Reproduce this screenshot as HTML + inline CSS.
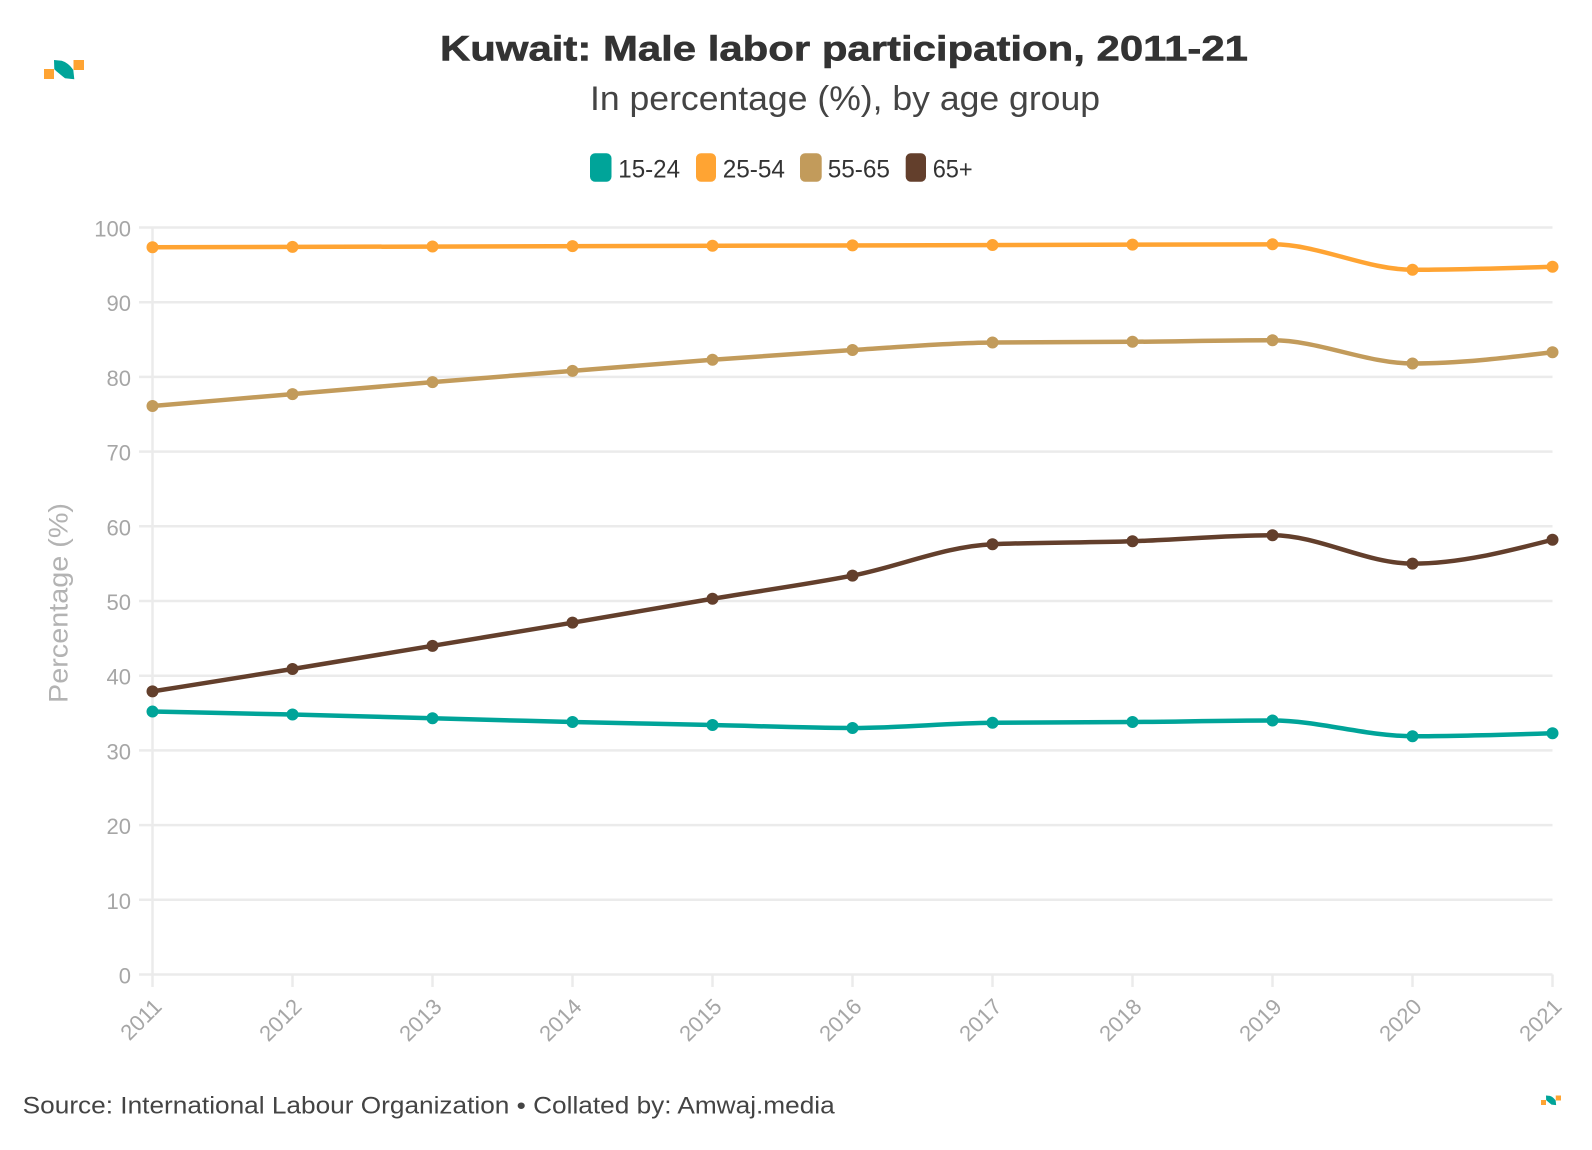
<!DOCTYPE html>
<html>
<head>
<meta charset="utf-8">
<style>
  html,body{margin:0;padding:0;background:#fff;}
  svg{display:block;}
  text{font-family:"Liberation Sans", Arial, sans-serif;}
</style>
</head>
<body>
<svg width="1592" height="1150" viewBox="0 0 1592 1150" xmlns="http://www.w3.org/2000/svg">
  <rect width="1592" height="1150" fill="#fff"/>

  <!-- logo top-left -->
  <g id="logo">
    <rect x="44" y="69" width="10" height="10" fill="#ffa433"/>
    <path d="M54,60 L61.7,60.7 C66,62 70,65 73.3,70 L74.3,79.3 L65,78.3 C61,75 57,72 54.3,69.3 Z" fill="#00a499"/>
    <rect x="73.5" y="60" width="10.5" height="10" fill="#ffa433"/>
  </g>
  <!-- logo bottom-right -->
  <g transform="translate(1519,1065.5) scale(0.5)">
    <rect x="44" y="69" width="10" height="10" fill="#ffa433"/>
    <path d="M54,60 L61.7,60.7 C66,62 70,65 73.3,70 L74.3,79.3 L65,78.3 C61,75 57,72 54.3,69.3 Z" fill="#00a499"/>
    <rect x="73.5" y="60" width="10.5" height="10" fill="#ffa433"/>
  </g>

  <!-- titles -->
  <text x="440" y="60.5" font-size="35" font-weight="bold" fill="#333" stroke="#333" stroke-width="0.6" textLength="808" lengthAdjust="spacingAndGlyphs">Kuwait: Male labor participation, 2011-21</text>
  <text x="590" y="110" font-size="34" fill="#444" textLength="510" lengthAdjust="spacingAndGlyphs">In percentage (%), by age group</text>

  <!-- legend -->
  <rect x="590" y="153.3" width="21.5" height="28.4" rx="5" fill="#00a499"/>
  <text x="618.3" y="177.3" font-size="25" fill="#333" textLength="61.7" lengthAdjust="spacingAndGlyphs">15-24</text>
  <rect x="696" y="153.3" width="20" height="28.4" rx="5" fill="#ffa433"/>
  <text x="722.7" y="177.3" font-size="25" fill="#333" textLength="62.3" lengthAdjust="spacingAndGlyphs">25-54</text>
  <rect x="800" y="153.3" width="21.7" height="28.4" rx="5" fill="#c29b5b"/>
  <text x="827.7" y="177.3" font-size="25" fill="#333" textLength="62.3" lengthAdjust="spacingAndGlyphs">55-65</text>
  <rect x="905.7" y="153.3" width="20.3" height="28.4" rx="5" fill="#633f2c"/>
  <text x="932.7" y="177.3" font-size="25" fill="#333" textLength="40" lengthAdjust="spacingAndGlyphs">65+</text>

  <!-- grid -->
  <g stroke="#ebebeb" stroke-width="2.5">
    <line x1="139" y1="974.5" x2="1552.5" y2="974.5"/>
    <line x1="139" y1="899.8" x2="1552.5" y2="899.8"/>
    <line x1="139" y1="825.1" x2="1552.5" y2="825.1"/>
    <line x1="139" y1="750.4" x2="1552.5" y2="750.4"/>
    <line x1="139" y1="675.7" x2="1552.5" y2="675.7"/>
    <line x1="139" y1="601.0" x2="1552.5" y2="601.0"/>
    <line x1="139" y1="526.3" x2="1552.5" y2="526.3"/>
    <line x1="139" y1="451.6" x2="1552.5" y2="451.6"/>
    <line x1="139" y1="376.9" x2="1552.5" y2="376.9"/>
    <line x1="139" y1="302.2" x2="1552.5" y2="302.2"/>
    <line x1="139" y1="227.5" x2="1552.5" y2="227.5"/>
    <line x1="152.5" y1="227.5" x2="152.5" y2="987"/>
    <line x1="292.5" y1="974.5" x2="292.5" y2="987"/>
    <line x1="432.5" y1="974.5" x2="432.5" y2="987"/>
    <line x1="572.5" y1="974.5" x2="572.5" y2="987"/>
    <line x1="712.5" y1="974.5" x2="712.5" y2="987"/>
    <line x1="852.5" y1="974.5" x2="852.5" y2="987"/>
    <line x1="992.5" y1="974.5" x2="992.5" y2="987"/>
    <line x1="1132.5" y1="974.5" x2="1132.5" y2="987"/>
    <line x1="1272.5" y1="974.5" x2="1272.5" y2="987"/>
    <line x1="1412.5" y1="974.5" x2="1412.5" y2="987"/>
    <line x1="1552.5" y1="974.5" x2="1552.5" y2="987"/>
  </g>

  <!-- y labels -->
  <g font-size="22" fill="#a6a6a6" text-anchor="end">
    <text x="131" y="983.5">0</text>
    <text x="131" y="908.8">10</text>
    <text x="131" y="834.1">20</text>
    <text x="131" y="759.4">30</text>
    <text x="131" y="684.7">40</text>
    <text x="131" y="610.0">50</text>
    <text x="131" y="535.3">60</text>
    <text x="131" y="460.6">70</text>
    <text x="131" y="385.9">80</text>
    <text x="131" y="311.2">90</text>
    <text x="131" y="236.5">100</text>
  </g>

  <!-- y title -->
  <text transform="translate(67.5,603) rotate(-90)" x="0" y="0" font-size="27" fill="#b3b3b3" text-anchor="middle" textLength="200" lengthAdjust="spacingAndGlyphs">Percentage (%)</text>

  <!-- x labels -->
  <g font-size="22" fill="#a6a6a6" text-anchor="end">
    <text transform="translate(163,1008) rotate(-45)">2011</text>
    <text transform="translate(303,1008) rotate(-45)">2012</text>
    <text transform="translate(443,1008) rotate(-45)">2013</text>
    <text transform="translate(583,1008) rotate(-45)">2014</text>
    <text transform="translate(723,1008) rotate(-45)">2015</text>
    <text transform="translate(863,1008) rotate(-45)">2016</text>
    <text transform="translate(1003,1008) rotate(-45)">2017</text>
    <text transform="translate(1143,1008) rotate(-45)">2018</text>
    <text transform="translate(1283,1008) rotate(-45)">2019</text>
    <text transform="translate(1423,1008) rotate(-45)">2020</text>
    <text transform="translate(1563,1008) rotate(-45)">2021</text>
  </g>

  <!-- series lines -->
  <g fill="none" stroke-width="4.5" stroke-linecap="round" stroke-linejoin="round">
    <path stroke="#ffa433" d="M152.5,247.3 L1132.5,244.68 C1179.17,244.56 1225.83,244.31 1272.5,244.31 C1319.17,244.31 1365.83,269.71 1412.5,269.71 C1459.17,269.71 1505.83,268.21 1552.5,266.72"/>
    <path stroke="#c29b5b" d="M152.5,406.03 C199.17,402.05 245.83,398.06 292.5,394.08 C339.17,390.10 385.83,385.99 432.5,382.13 C479.17,378.27 525.83,374.66 572.5,370.92 C619.17,367.18 665.83,363.21 712.5,359.72 C759.17,356.23 805.83,352.87 852.5,350.01 C899.17,347.15 945.83,343.04 992.5,342.54 C1039.17,342.04 1085.83,342.16 1132.5,341.79 C1179.17,341.42 1225.83,340.30 1272.5,340.30 C1319.17,340.30 1365.83,363.45 1412.5,363.45 C1459.17,363.45 1505.83,357.85 1552.5,352.25"/>
    <path stroke="#633f2c" d="M152.5,691.39 C199.17,683.98 245.83,676.57 292.5,668.98 C339.17,661.39 385.83,653.54 432.5,645.82 C479.17,638.10 525.83,630.50 572.5,622.66 C619.17,614.82 665.83,606.60 712.5,598.76 C759.17,590.92 805.83,584.69 852.5,575.60 C899.17,566.51 945.83,546.22 992.5,544.23 C1039.17,542.24 1085.83,542.73 1132.5,541.24 C1179.17,539.75 1225.83,535.26 1272.5,535.26 C1319.17,535.26 1365.83,563.65 1412.5,563.65 C1459.17,563.65 1505.83,551.70 1552.5,539.75"/>
    <path stroke="#00a499" d="M152.5,711.56 C199.17,712.49 245.83,713.42 292.5,714.54 C339.17,715.66 385.83,717.03 432.5,718.28 C479.17,719.53 525.83,720.89 572.5,722.01 C619.17,723.13 665.83,724.00 712.5,725.00 C759.17,726.00 805.83,727.99 852.5,727.99 C899.17,727.99 945.83,723.26 992.5,722.76 C1039.17,722.26 1085.83,722.38 1132.5,722.01 C1179.17,721.64 1225.83,720.52 1272.5,720.52 C1319.17,720.52 1365.83,736.21 1412.5,736.21 C1459.17,736.21 1505.83,734.71 1552.5,733.22"/>
  </g>

  <!-- dots -->
  <g fill="#ffa433">
    <circle cx="152.5" cy="247.30" r="6"/><circle cx="292.5" cy="246.92" r="6"/><circle cx="432.5" cy="246.55" r="6"/><circle cx="572.5" cy="246.18" r="6"/><circle cx="712.5" cy="245.80" r="6"/><circle cx="852.5" cy="245.43" r="6"/><circle cx="992.5" cy="245.06" r="6"/><circle cx="1132.5" cy="244.68" r="6"/><circle cx="1272.5" cy="244.31" r="6"/><circle cx="1412.5" cy="269.71" r="6"/><circle cx="1552.5" cy="266.72" r="6"/>
  </g>
  <g fill="#c29b5b">
    <circle cx="152.5" cy="406.03" r="6"/><circle cx="292.5" cy="394.08" r="6"/><circle cx="432.5" cy="382.13" r="6"/><circle cx="572.5" cy="370.92" r="6"/><circle cx="712.5" cy="359.72" r="6"/><circle cx="852.5" cy="350.01" r="6"/><circle cx="992.5" cy="342.54" r="6"/><circle cx="1132.5" cy="341.79" r="6"/><circle cx="1272.5" cy="340.30" r="6"/><circle cx="1412.5" cy="363.45" r="6"/><circle cx="1552.5" cy="352.25" r="6"/>
  </g>
  <g fill="#633f2c">
    <circle cx="152.5" cy="691.39" r="6"/><circle cx="292.5" cy="668.98" r="6"/><circle cx="432.5" cy="645.82" r="6"/><circle cx="572.5" cy="622.66" r="6"/><circle cx="712.5" cy="598.76" r="6"/><circle cx="852.5" cy="575.60" r="6"/><circle cx="992.5" cy="544.23" r="6"/><circle cx="1132.5" cy="541.24" r="6"/><circle cx="1272.5" cy="535.26" r="6"/><circle cx="1412.5" cy="563.65" r="6"/><circle cx="1552.5" cy="539.75" r="6"/>
  </g>
  <g fill="#00a499">
    <circle cx="152.5" cy="711.56" r="6"/><circle cx="292.5" cy="714.54" r="6"/><circle cx="432.5" cy="718.28" r="6"/><circle cx="572.5" cy="722.01" r="6"/><circle cx="712.5" cy="725.00" r="6"/><circle cx="852.5" cy="727.99" r="6"/><circle cx="992.5" cy="722.76" r="6"/><circle cx="1132.5" cy="722.01" r="6"/><circle cx="1272.5" cy="720.52" r="6"/><circle cx="1412.5" cy="736.21" r="6"/><circle cx="1552.5" cy="733.22" r="6"/>
  </g>

  <!-- footer -->
  <text x="22.7" y="1113.3" font-size="24" fill="#444" textLength="812" lengthAdjust="spacingAndGlyphs">Source: International Labour Organization • Collated by: Amwaj.media</text>
</svg>
</body>
</html>
